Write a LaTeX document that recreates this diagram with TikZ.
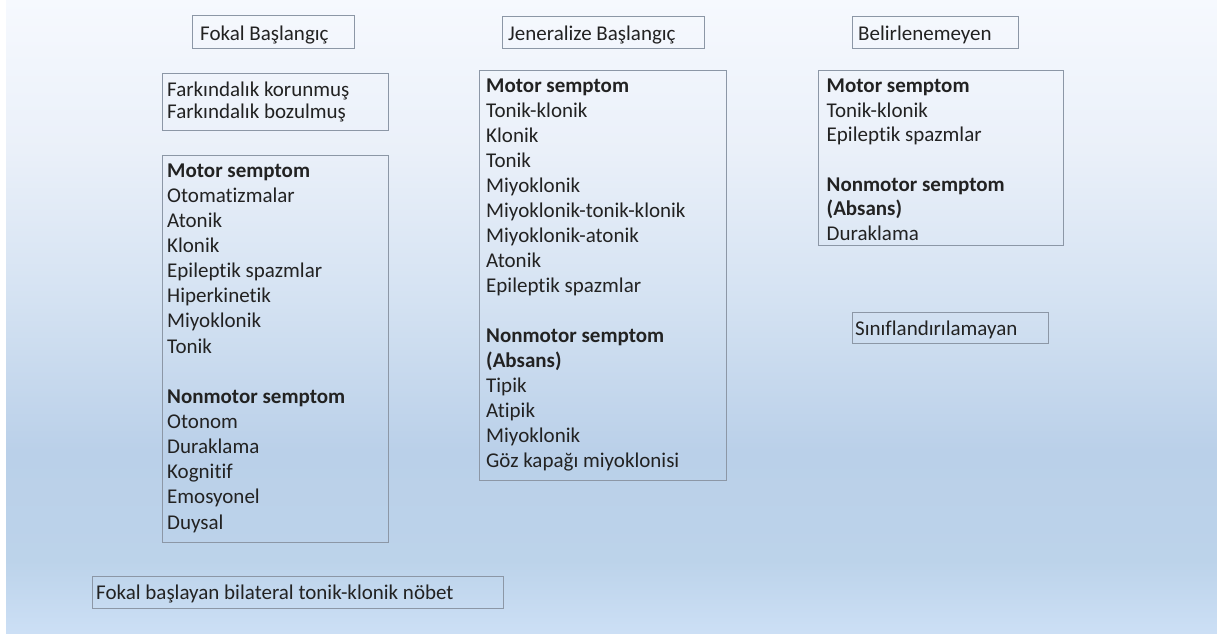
\documentclass[tikz,border=0pt]{standalone}
\usepackage{fontspec}
\setmainfont{Carlito}[Ligatures=NoCommon]
\definecolor{bordc}{HTML}{8C97A6}
\definecolor{txt}{HTML}{222222}
\definecolor{bg0}{HTML}{F6F9FE}
\definecolor{bg1}{HTML}{EAF0F9}
\definecolor{bg2}{HTML}{D4E2F2}
\definecolor{bg3}{HTML}{BAD0E9}
\definecolor{bg4}{HTML}{BCD3EA}
\definecolor{bg5}{HTML}{CCDFF5}
\tikzset{
  boxf/.style={draw=bordc, line width=1.1pt, inner sep=0pt, anchor=north west},
  lbl/.style={inner sep=0pt, text=txt, align=left, anchor=north west},
  ttl/.style={inner sep=0pt, text=txt, anchor=base west, font=\fontsize{21}{25}\selectfont}
}
\begin{document}
\begin{tikzpicture}[x=1pt,y=-1pt]
\useasboundingbox (0,0) rectangle (1217,635);
\fill[white] (0,0) rectangle (1217,635);
% background gradient
\shade[top color=bg0, bottom color=bg1] (6,0) rectangle (1217,151);
\shade[top color=bg1, bottom color=bg2] (6,150) rectangle (1217,301);
\shade[top color=bg2, bottom color=bg3] (6,300) rectangle (1217,451);
\shade[top color=bg3, bottom color=bg4] (6,450) rectangle (1217,561);
\shade[top color=bg4, bottom color=bg5] (6,560) rectangle (1217,633);

% Focal column
\node[boxf, minimum width=162pt, minimum height=33pt] (fokalT) at (192,15) {};
\node[ttl] (fokalTt) at (200,40.5) {Fokal Başlangıç};

\node[boxf, minimum width=226pt, minimum height=57pt] (fark) at (162,73) {};
\node[lbl, font=\fontsize{21}{22}\selectfont] (farkt) at (167,80.6) {\strut Farkındalık korunmuş\\Farkındalık bozulmuş};

\node[boxf, minimum width=226pt, minimum height=387pt] (fokalB) at (162,155) {};
\node[lbl, font=\fontsize{21}{25.15}\selectfont] (fokalBt) at (167,159.2) {\strut\textbf{Motor semptom}\\Otomatizmalar\\Atonik\\Klonik\\Epileptik spazmlar\\Hiperkinetik\\Miyoklonik\\Tonik\\ \\\textbf{Nonmotor semptom}\\Otonom\\Duraklama\\Kognitif\\Emosyonel\\Duysal};

\node[boxf, minimum width=411pt, minimum height=32pt] (bilat) at (92,576) {};
\node[ttl] (bilatt) at (96,599.3) {Fokal başlayan bilateral tonik-klonik nöbet};

% Generalized column
\node[boxf, minimum width=202pt, minimum height=32pt] (genT) at (502,16) {};
\node[ttl] (genTt) at (508,40.5) {Jeneralize Başlangıç};

\node[boxf, minimum width=247pt, minimum height=410pt] (genB) at (479,70) {};
\node[lbl, font=\fontsize{21}{25}\selectfont] (genBt) at (486,74.7) {\strut\textbf{Motor semptom}\\Tonik-klonik\\Klonik\\Tonik\\Miyoklonik\\Miyoklonik-tonik-klonik\\Miyoklonik-atonik\\Atonik\\Epileptik spazmlar\\ \\\textbf{Nonmotor semptom}\\\textbf{(Absans)}\\Tipik\\Atipik\\Miyoklonik\\Göz kapağı miyoklonisi};

% Unknown column
\node[boxf, minimum width=166pt, minimum height=32pt] (unkT) at (852,16) {};
\node[ttl] (unkTt) at (858,40.5) {Belirlenemeyen};

\node[boxf, minimum width=245pt, minimum height=175pt] (unkB) at (818,70) {};
\node[lbl, font=\fontsize{21}{24.7}\selectfont] (unkBt) at (826.5,74.9) {\strut\textbf{Motor semptom}\\Tonik-klonik\\Epileptik spazmlar\\ \\\textbf{Nonmotor semptom}\\\textbf{(Absans)}\\Duraklama};

\node[boxf, minimum width=196pt, minimum height=31pt] (uncl) at (852,312) {};
\node[ttl] (unclt) at (855,335) {Sınıflandırılamayan};
\end{tikzpicture}
\end{document}
